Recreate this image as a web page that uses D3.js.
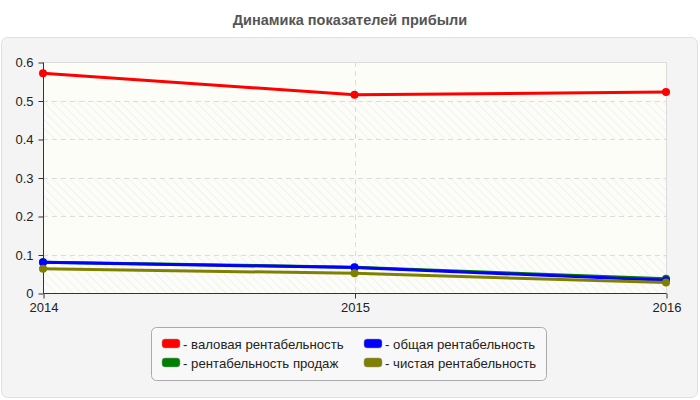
<!DOCTYPE html>
<html>
<head>
<meta charset="utf-8">
<script src="https://cdn.jsdelivr.net/npm/d3@7"></script>
<style>
  body { margin: 0; background: #fff; }
  text { font-family: "Liberation Sans", Arial, sans-serif; }
</style>
</head>
<body>
<div id="chart"></div>
<script>
var w = 700;
var h = 400;

var years = [2014, 2015, 2016];
var seriesNames = ['валовая рентабельность', 'общая рентабельность', 'рентабельность продаж', 'чистая рентабельность'];
var seriesColors = ['#ff0000', '#0000ff', '#008000', '#808000'];
var gross = [0.571, 0.515, 0.522];
var general = [0.080, 0.066, 0.033];
var sales = [0.080, 0.067, 0.037];
var net = [0.063, 0.051, 0.027];
var yTicks = [0, 0.1, 0.2, 0.3, 0.4, 0.5, 0.6];

// draw order: green under blue
var drawOrder = [0, 2, 1, 3];
var values = [gross, general, sales, net];

var plotL = 43, plotR = 666, plotT = 62, plotB = 293;

var xScale = d3.scalePoint().domain(years).range([plotL, plotR]);
var yScale = d3.scaleLinear().domain([0, 0.6]).range([plotB, plotT]);

var svg = d3.select("#chart").append("svg")
    .attr("width", w)
    .attr("height", h);

var defs = svg.append("defs");
var pat = defs.append("pattern")
    .attr("id", "hatch")
    .attr("patternUnits", "userSpaceOnUse")
    .attr("width", 6).attr("height", 6)
    .attr("patternTransform", "rotate(-45)");
pat.append("rect").attr("width", 6).attr("height", 6).attr("fill", "#fcfcf8");
pat.append("line").attr("x1", 0).attr("y1", 0).attr("x2", 0).attr("y2", 6)
    .attr("stroke", "#eeeeee").attr("stroke-width", 1.5);

// title
svg.append("text")
    .attr("x", w / 2).attr("y", 25)
    .attr("text-anchor", "middle")
    .attr("font-size", 14.5).attr("font-weight", "bold")
    .attr("fill", "#555")
    .text("Динамика показателей прибыли");

// panel
svg.append("rect")
    .attr("x", 1.5).attr("y", 37.5).attr("width", 696).attr("height", 360)
    .attr("rx", 6)
    .attr("fill", "#f4f4f4").attr("stroke", "#e0e0e0");

// plot background bands
svg.append("g").selectAll("rect")
    .data(d3.pairs(yTicks))
    .enter().append("rect")
    .attr("x", plotL)
    .attr("y", function(d) { return yScale(d[1]); })
    .attr("width", plotR - plotL)
    .attr("height", function(d) { return yScale(d[0]) - yScale(d[1]); })
    .attr("fill", function(d, i) { return i % 2 === 0 ? "url(#hatch)" : "#fdfdf7"; });

// grid
svg.append("g").selectAll("line")
    .data(yTicks.slice(1, -1))
    .enter().append("line")
    .attr("x1", plotL).attr("x2", plotR)
    .attr("y1", function(d) { return Math.round(yScale(d)) + 0.5; })
    .attr("y2", function(d) { return Math.round(yScale(d)) + 0.5; })
    .attr("stroke", "#dcdcdc").attr("stroke-dasharray", "5,4");

svg.append("line")
    .attr("x1", Math.round(xScale(2015)) + 0.5).attr("x2", Math.round(xScale(2015)) + 0.5)
    .attr("y1", plotT).attr("y2", plotB)
    .attr("stroke", "#dcdcdc").attr("stroke-dasharray", "5,4");

svg.append("line")
    .attr("x1", plotL).attr("x2", plotR + 0.5)
    .attr("y1", plotT + 0.5).attr("y2", plotT + 0.5)
    .attr("stroke", "#dcdcdc");
svg.append("line")
    .attr("x1", plotR + 0.5).attr("x2", plotR + 0.5)
    .attr("y1", plotT).attr("y2", plotB)
    .attr("stroke", "#dcdcdc");

// axes
var yAxis = d3.axisLeft(yScale).tickValues(yTicks).tickSize(5).tickPadding(5)
    .tickFormat(function(d) { return d === 0 ? "0" : d3.format(".1f")(d); });
var gy = svg.append("g")
    .attr("transform", "translate(" + (plotL + 0.5) + ",0.5)")
    .call(yAxis);
gy.select(".domain").attr("stroke", "#333").attr("d", "M0," + plotT + "V" + plotB);
gy.selectAll(".tick line").attr("stroke", "#333");
gy.selectAll("text").attr("font-size", 13).attr("fill", "#222")
    .attr("font-family", "Liberation Sans, Arial, sans-serif");

var xAxis = d3.axisBottom(xScale).tickSize(5).tickPadding(4);
var gx = svg.append("g")
    .attr("transform", "translate(0.5," + (plotB + 0.5) + ")")
    .call(xAxis);
gx.select(".domain").attr("stroke", "#333").attr("d", "M" + plotL + ",0H" + plotR);
gx.selectAll(".tick line").attr("stroke", "#333");
gx.selectAll("text").attr("font-size", 13).attr("fill", "#222")
    .attr("font-family", "Liberation Sans, Arial, sans-serif");

// lines
var line = d3.line()
    .x(function(d, i) { return xScale(years[i]); })
    .y(function(d) { return yScale(d); });

drawOrder.forEach(function(k) {
    svg.append("path")
        .datum(values[k])
        .attr("d", line)
        .attr("fill", "none")
        .attr("stroke", seriesColors[k])
        .attr("stroke-width", 3);
    svg.append("g").selectAll("circle")
        .data(values[k])
        .enter().append("circle")
        .attr("cx", function(d, i) { return xScale(years[i]); })
        .attr("cy", function(d) { return yScale(d); })
        .attr("r", 4)
        .attr("fill", seriesColors[k]);
});

// legend
svg.append("rect")
    .attr("x", 151.5).attr("y", 327.5).attr("width", 395).attr("height", 53)
    .attr("rx", 5)
    .attr("fill", "#f8f8f8").attr("stroke", "#aaa");

var legendPos = [[162, 343.5], [364, 343.5], [162, 362.5], [364, 362.5]];
var lg = svg.append("g").selectAll("g")
    .data(seriesNames)
    .enter().append("g")
    .attr("transform", function(d, i) { return "translate(" + legendPos[i][0] + "," + legendPos[i][1] + ")"; });
lg.append("rect")
    .attr("x", 0).attr("y", -4.5).attr("width", 18).attr("height", 9)
    .attr("rx", 3)
    .attr("fill", function(d, i) { return seriesColors[i]; })
    .attr("stroke", "#999").attr("stroke-width", 0.5);
lg.append("text")
    .attr("x", 21).attr("y", 5)
    .attr("font-size", 13.2).attr("fill", "#222")
    .text(function(d) { return "- " + d; });
</script>
</body>
</html>
